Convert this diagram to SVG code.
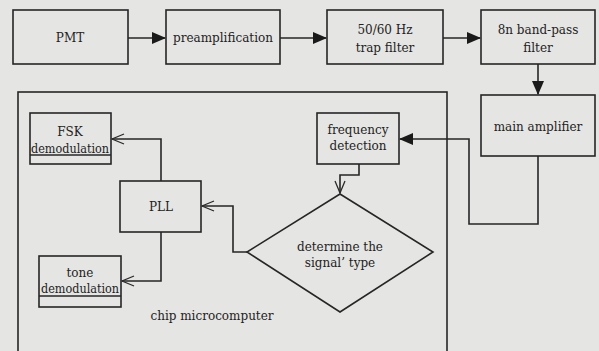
<svg xmlns="http://www.w3.org/2000/svg" width="599" height="351" viewBox="0 0 599 351">
<defs>
<marker id="fill" markerWidth="14" markerHeight="12" refX="13" refY="6" orient="auto" markerUnits="userSpaceOnUse">
<path d="M0,0 L14,6 L0,12 Z" fill="#1a1a1a"/>
</marker>
<marker id="open" markerWidth="14" markerHeight="12" refX="13" refY="6" orient="auto" markerUnits="userSpaceOnUse">
<path d="M1,1 L13,6 L1,11" fill="none" stroke="#2a2a2a" stroke-width="1.3"/>
</marker>
</defs>
<style>
.box{fill:none;stroke:#262626;stroke-width:1.6}
.wire{fill:none;stroke:#262626;stroke-width:1.6}
.t{font-family:"DejaVu Serif","Liberation Serif",serif;font-size:12px;fill:#222;text-anchor:middle;dominant-baseline:central}
</style>
<rect width="599" height="351" fill="#e5e5e3"/>
<g id="chip">
<rect class="box" x="18" y="92" width="429" height="270"/>
<text class="t" x="212" y="316">chip microcomputer</text>
</g>
<g id="pmt"><rect class="box" x="13" y="10" width="115" height="54"/><text class="t" x="70" y="38">PMT</text></g>
<g id="pre"><rect class="box" x="166" y="10" width="114" height="54"/><text class="t" x="223" y="38">preamplification</text></g>
<g id="trap"><rect class="box" x="327" y="10" width="116" height="54"/><text class="t" x="385" y="30">50/60 Hz</text><text class="t" x="385" y="48">trap filter</text></g>
<g id="bp"><rect class="box" x="481" y="10" width="114" height="54"/><text class="t" x="538" y="30">8n band-pass</text><text class="t" x="538" y="48">filter</text></g>
<g id="main"><rect class="box" x="481" y="95" width="114" height="61"/><text class="t" x="538" y="127">main amplifier</text></g>
<g id="freq"><rect class="box" x="317" y="113" width="82" height="51"/><text class="t" x="358" y="130">frequency</text><text class="t" x="358" y="146">detection</text></g>
<g id="det"><polygon class="box" points="340,194 433,252 340,312 247,252"/><text class="t" x="340" y="247">determine the</text><text class="t" x="340" y="263">signal’  type</text></g>
<g id="pll"><rect class="box" x="120" y="181" width="81" height="51"/><text class="t" x="161" y="207">PLL</text></g>
<g id="fsk"><rect class="box" x="30" y="113" width="81" height="51"/><line class="box" x1="30" y1="155" x2="111" y2="155" stroke-width="1.2"/><text class="t" x="70" y="132">FSK</text><text class="t" x="70" y="149" textLength="78" lengthAdjust="spacingAndGlyphs">demodulation</text></g>
<g id="tone"><rect class="box" x="39" y="256" width="82" height="51"/><line class="box" x1="39" y1="296" x2="121" y2="296" stroke-width="1.2"/><text class="t" x="80" y="273">tone</text><text class="t" x="80" y="289" textLength="78" lengthAdjust="spacingAndGlyphs">demodulation</text></g>
<g id="connectors">
<line class="wire" x1="128" y1="38" x2="165" y2="38" marker-end="url(#fill)"/>
<line class="wire" x1="280" y1="38" x2="326" y2="38" marker-end="url(#fill)"/>
<line class="wire" x1="443" y1="38" x2="480" y2="38" marker-end="url(#fill)"/>
<line class="wire" x1="538" y1="64" x2="538" y2="94" marker-end="url(#fill)"/>
<polyline class="wire" points="538,156 538,224 469,224 469,139 400,139" marker-end="url(#fill)"/>
<polyline class="wire" points="359,164 359,175 340,175 340,193" marker-end="url(#open)"/>
<polyline class="wire" points="247,252 233,252 233,206 202,206" marker-end="url(#open)"/>
<polyline class="wire" points="161,181 161,139 112,139" marker-end="url(#open)"/>
<polyline class="wire" points="161,232 161,281 122,281" marker-end="url(#open)"/>
</g>
</svg>
